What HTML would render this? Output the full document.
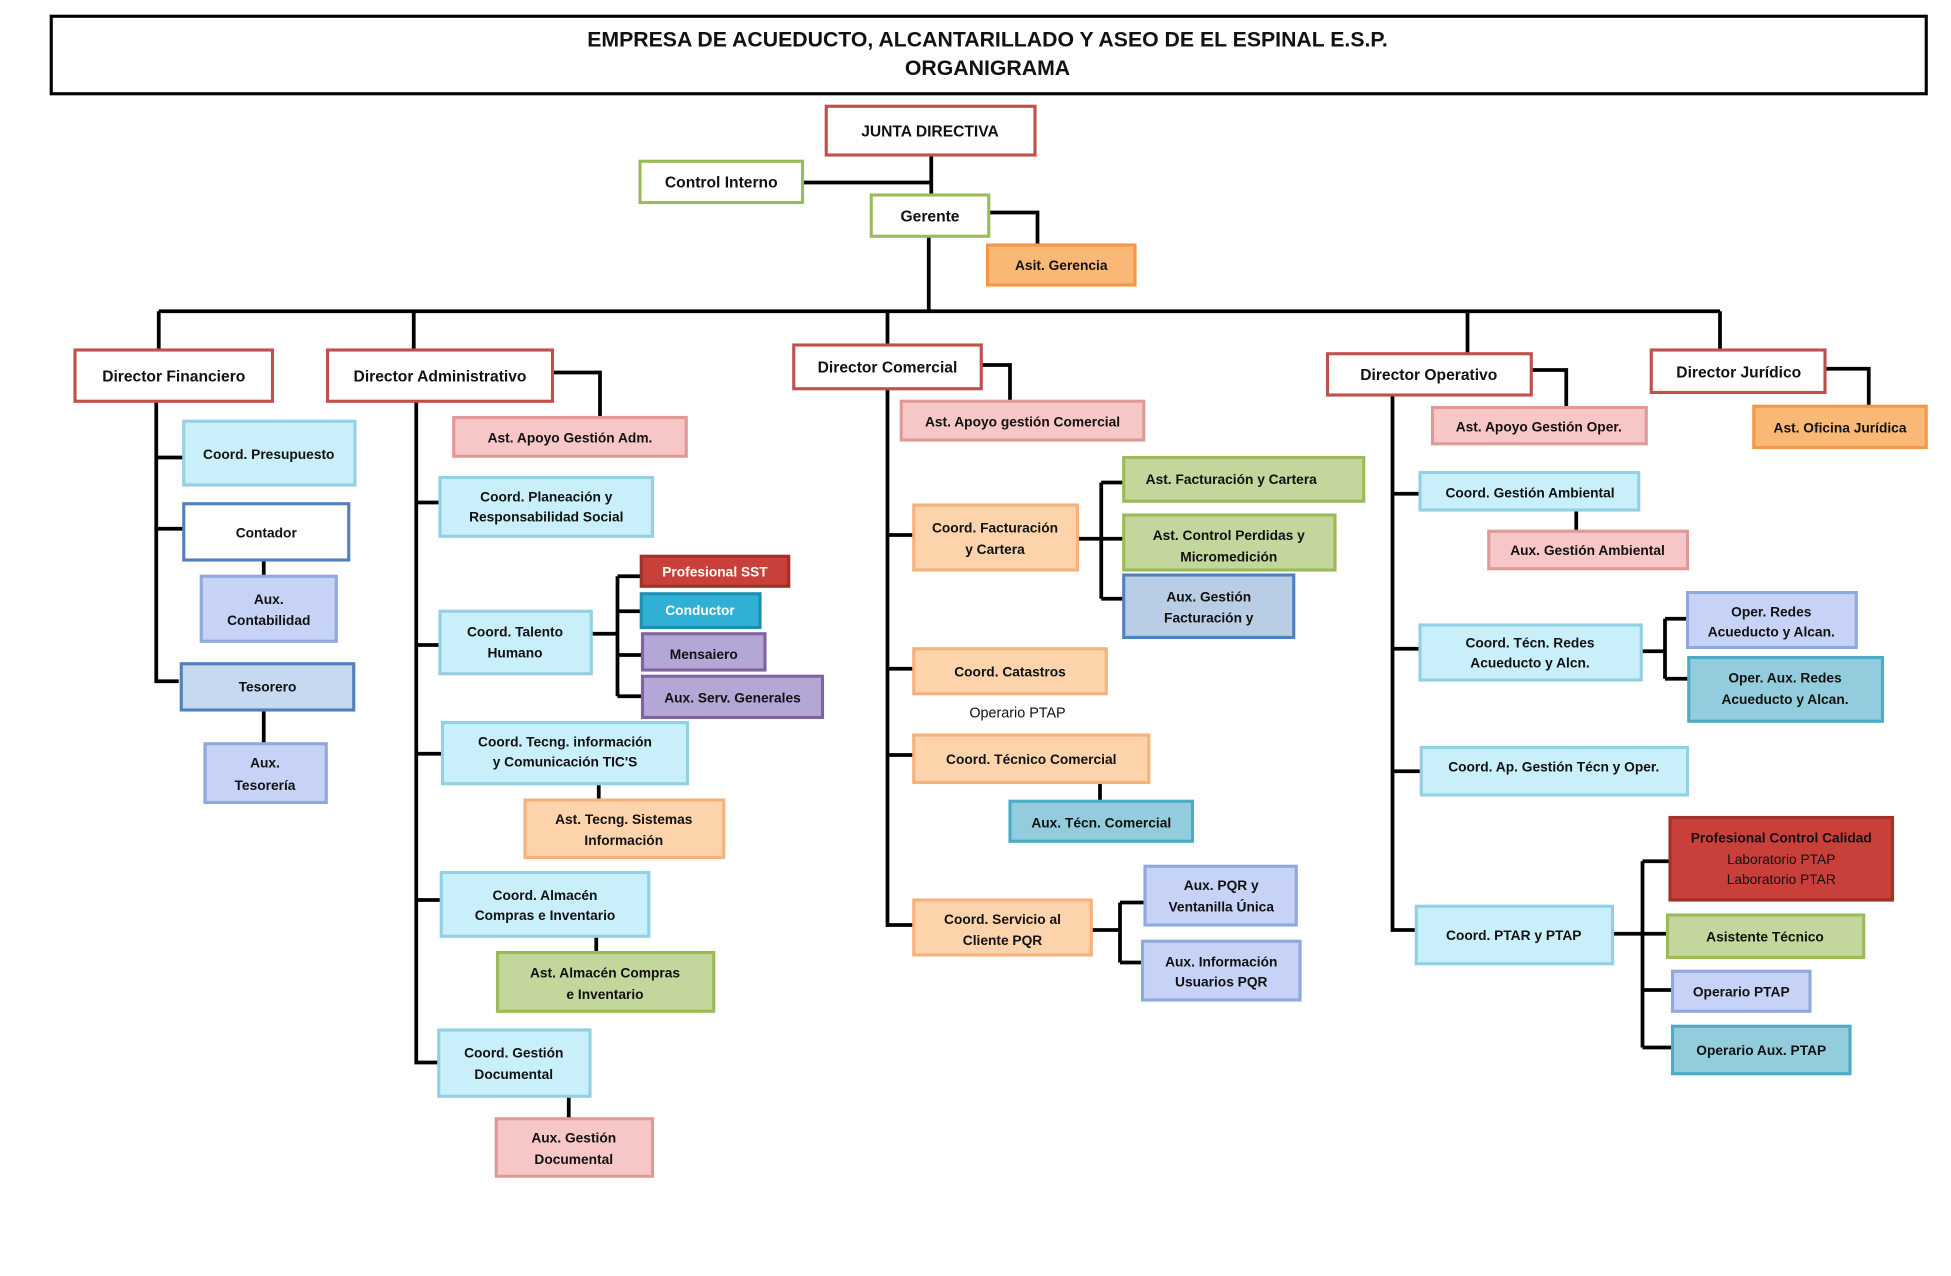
<!DOCTYPE html>
<html><head><meta charset="utf-8"><style>
html,body{margin:0;padding:0;background:#fff}
svg{display:block}
text{font-family:"Liberation Sans",sans-serif;font-weight:bold;font-size:11px;fill:#111;text-anchor:middle}
.ln{stroke:#000;stroke-width:3;fill:none}
rect{stroke-width:2.5}
.r{fill:#fff;stroke:#c0504d}
.g{fill:#fff;stroke:#9bbb59}
.o{fill:#fab877;stroke:#f79646}
.p{fill:#f7c6c6;stroke:#df9a98}
.c{fill:#c9effb;stroke:#92d0e4}
.bo{fill:#fff;stroke:#4f81bd}
.lb{fill:#c6d9f1;stroke:#4f81bd}
.pw{fill:#c6d3f7;stroke:#8fa8de}
.pe{fill:#fcd3ab;stroke:#f6b27a}
.gr{fill:#c3d69b;stroke:#9bbb59}
.pu{fill:#b4a7d6;stroke:#8064a2}
.t{fill:#93cddd;stroke:#4bacc6}
.dr{fill:#c9403a;stroke:#a0302b}
.cb{fill:#31b0d5;stroke:#1f8fb0}
.sb{fill:#b9cde5;stroke:#4f81bd}
.w{fill:#fff}
.d{font-size:12.5px}
</style></head><body>
<svg width="1951" height="1276" viewBox="0 0 1560.8 1020.8" xmlns="http://www.w3.org/2000/svg">
<rect x="41" y="13" width="1500" height="62" fill="#fff" stroke="#000" stroke-width="1.2"/>
<text x="790" y="37" style="font-size:17px">EMPRESA DE ACUEDUCTO, ALCANTARILLADO Y ASEO DE EL ESPINAL E.S.P.</text>
<text x="790" y="60" style="font-size:17px">ORGANIGRAMA</text>

<g class="ln">
<path d="M745 124V156M642 146H745M791 170H830V196M743 189V249M127 249H1376M127 249V280M331 249V280M710 249V276M1174 249V283M1376 249V280"/>
<path d="M125 321V545H143M125 366H147M125 423H147M211 448V461M211 568V595"/>
<path d="M442 298H480V334M333 321V850H352M333 402H352M333 516H352M333 603H354M333 720H353M473 507H494M494 461V557M494 461H513M494 489H513M494 524H514M494 557H514M479 627V640M477 749V762M455 877V895"/>
<path d="M785 292H808V321M710 311V740H731M710 428H731M710 535H731M710 604H731M862 431H881M881 386V479M881 386H900M881 431H900M881 479H900M880 626V641M873 744H896M896 722V770M896 722H916M896 770H914"/>
<path d="M1225 296H1253V326M1114 316V744H1133M1114 395H1136M1114 519H1136M1114 617H1137M1261 408V425M1313 521H1332M1332 495V543M1332 495H1350M1332 543H1351M1290 747H1314M1314 689V838M1314 689H1336M1314 747H1334M1314 792H1338M1314 838H1338"/>
<path d="M1460 295H1495V325"/>
</g>

<rect class="r" x="661" y="85" width="167" height="39"/><text class="d" x="744" y="109">JUNTA DIRECTIVA</text>
<rect class="g" x="512" y="129" width="130" height="33"/><text class="d" x="577" y="150">Control Interno</text>
<rect class="g" x="697" y="156" width="94" height="33"/><text class="d" x="744" y="177">Gerente</text>
<rect class="o" x="790" y="196" width="118" height="32"/><text x="849" y="216">Asit. Gerencia</text>

<rect class="r" x="60" y="280" width="158" height="41"/><text class="d" x="139" y="305">Director Financiero</text>
<rect class="r" x="262" y="280" width="180" height="41"/><text class="d" x="352" y="305">Director Administrativo</text>
<rect class="r" x="635" y="276" width="150" height="35"/><text class="d" x="710" y="298">Director Comercial</text>
<rect class="r" x="1062" y="283" width="163" height="33"/><text class="d" x="1143" y="304">Director Operativo</text>
<rect class="r" x="1321" y="280" width="139" height="34"/><text class="d" x="1391" y="302">Director Jurídico</text>

<rect class="c" x="147" y="337" width="137" height="51"/><text x="215" y="367">Coord. Presupuesto</text>
<rect class="bo" x="147" y="403" width="132" height="45"/><text x="213" y="430">Contador</text>
<rect class="pw" x="161" y="461" width="108" height="52"/><text x="215" y="483">Aux.</text><text x="215" y="500">Contabilidad</text>
<rect class="lb" x="145" y="531" width="138" height="37"/><text x="214" y="553">Tesorero</text>
<rect class="pw" x="164" y="595" width="97" height="47"/><text x="212" y="614">Aux.</text><text x="212" y="632">Tesorería</text>

<rect class="p" x="363" y="334" width="186" height="31"/><text x="456" y="354">Ast. Apoyo Gestión Adm.</text>
<rect class="c" x="352" y="382" width="170" height="47"/><text x="437" y="401">Coord. Planeación y</text><text x="437" y="417">Responsabilidad Social</text>
<rect class="c" x="352" y="489" width="121" height="50"/><text x="412" y="509">Coord. Talento</text><text x="412" y="526">Humano</text>
<rect class="dr" x="513" y="445" width="118" height="24"/><text class="w" x="572" y="461">Profesional SST</text>
<rect class="cb" x="513" y="475" width="95" height="27"/><text class="w" x="560" y="492">Conductor</text>
<rect class="pu" x="514" y="507" width="98" height="29"/><text x="563" y="527">Mensaiero</text>
<rect class="pu" x="514" y="541" width="144" height="33"/><text x="586" y="562">Aux. Serv. Generales</text>
<rect class="c" x="354" y="578" width="196" height="49"/><text x="452" y="597">Coord. Tecng. información</text><text x="452" y="613">y Comunicación TIC'S</text>
<rect class="pe" x="420" y="640" width="159" height="46"/><text x="499" y="659">Ast. Tecng. Sistemas</text><text x="499" y="676">Información</text>
<rect class="c" x="353" y="698" width="166" height="51"/><text x="436" y="720">Coord. Almacén</text><text x="436" y="736">Compras e Inventario</text>
<rect class="gr" x="398" y="762" width="173" height="47"/><text x="484" y="782">Ast. Almacén Compras</text><text x="484" y="799">e Inventario</text>
<rect class="c" x="351" y="824" width="121" height="53"/><text x="411" y="846">Coord. Gestión</text><text x="411" y="863">Documental</text>
<rect class="p" x="397" y="895" width="125" height="46"/><text x="459" y="914">Aux. Gestión</text><text x="459" y="931">Documental</text>

<rect class="p" x="721" y="321" width="194" height="31"/><text x="818" y="341">Ast. Apoyo gestión Comercial</text>
<rect class="pe" x="731" y="404" width="131" height="52"/><text x="796" y="426">Coord. Facturación</text><text x="796" y="443">y Cartera</text>
<rect class="gr" x="899" y="366" width="192" height="35"/><text x="985" y="387">Ast. Facturación y Cartera</text>
<rect class="gr" x="899" y="412" width="169" height="44"/><text x="983" y="432">Ast. Control Perdidas y</text><text x="983" y="449">Micromedición</text>
<rect class="sb" x="899" y="460" width="136" height="50"/><text x="967" y="481">Aux. Gestión</text><text x="967" y="498">Facturación y</text>
<rect class="pe" x="731" y="519" width="154" height="36"/><text x="808" y="541">Coord. Catastros</text>
<text x="814" y="574" style="font-weight:normal;font-size:11.5px">Operario PTAP</text>
<rect class="pe" x="731" y="588" width="188" height="38"/><text x="825" y="611">Coord. Técnico Comercial</text>
<rect class="t" x="808" y="641" width="146" height="32"/><text x="881" y="662">Aux. Técn. Comercial</text>
<rect class="pe" x="731" y="720" width="142" height="44"/><text x="802" y="739">Coord. Servicio al</text><text x="802" y="756">Cliente PQR</text>
<rect class="pw" x="916" y="693" width="121" height="47"/><text x="977" y="712">Aux. PQR y</text><text x="977" y="729">Ventanilla Única</text>
<rect class="pw" x="914" y="753" width="126" height="47"/><text x="977" y="773">Aux. Información</text><text x="977" y="789">Usuarios PQR</text>

<rect class="p" x="1146" y="326" width="171" height="29"/><text x="1231" y="345">Ast. Apoyo Gestión Oper.</text>
<rect class="c" x="1136" y="378" width="175" height="30"/><text x="1224" y="398">Coord. Gestión Ambiental</text>
<rect class="p" x="1191" y="425" width="159" height="30"/><text x="1270" y="444">Aux. Gestión Ambiental</text>
<rect class="c" x="1136" y="500" width="177" height="44"/><text x="1224" y="518">Coord. Técn. Redes</text><text x="1224" y="534">Acueducto y Alcn.</text>
<rect class="pw" x="1350" y="474" width="135" height="44"/><text x="1417" y="493">Oper. Redes</text><text x="1417" y="509">Acueducto y Alcan.</text>
<rect class="t" x="1351" y="526" width="155" height="51"/><text x="1428" y="546">Oper. Aux. Redes</text><text x="1428" y="563">Acueducto y Alcan.</text>
<rect class="c" x="1137" y="598" width="213" height="38"/><text x="1243" y="617">Coord. Ap. Gestión Técn y Oper.</text>
<rect class="c" x="1133" y="725" width="157" height="46"/><text x="1211" y="752">Coord. PTAR y PTAP</text>
<rect class="dr" x="1336" y="654" width="178" height="66"/><text x="1425" y="674">Profesional Control Calidad</text><text x="1425" y="691" style="font-weight:normal">Laboratorio PTAP</text><text x="1425" y="707" style="font-weight:normal">Laboratorio PTAR</text>
<rect class="gr" x="1334" y="732" width="157" height="34"/><text x="1412" y="753">Asistente Técnico</text>
<rect class="pw" x="1338" y="777" width="110" height="32"/><text x="1393" y="797">Operario PTAP</text>
<rect class="t" x="1338" y="821" width="142" height="38"/><text x="1409" y="844">Operario Aux. PTAP</text>

<rect class="o" x="1403" y="325" width="138" height="33"/><text x="1472" y="346">Ast. Oficina Jurídica</text>
</svg>
</body></html>
